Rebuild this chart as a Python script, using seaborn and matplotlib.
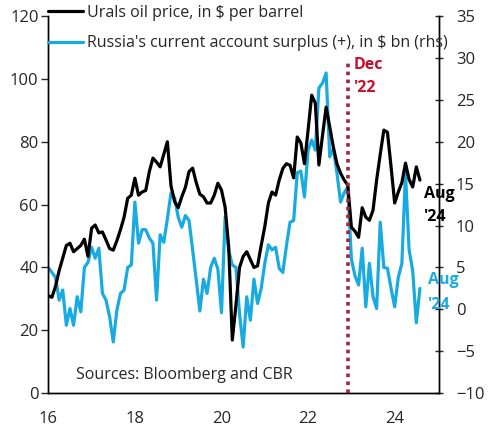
import numpy as np
import pandas as pd
import seaborn as sns
import matplotlib.pyplot as plt
from matplotlib.lines import Line2D

# monthly data, Jan 2016 .. Aug 2024
urals = [31, 30.5, 34, 39, 43, 47, 47.7, 45, 46, 47, 49, 43.5,
         52.5, 53.5, 51, 51.3, 48.7, 46, 45.5, 48.5, 52, 56, 62, 63,
         68.4, 63, 64, 64.5, 70.5, 74.8, 73.5, 72, 76, 80, 66, 61,
         59, 62.5, 65.5, 70.5, 71.6, 67, 63.3, 62.5, 60.5, 60.5, 63, 66.8,
         64.6, 59.2, 46.5, 16.9, 28, 40, 43.5, 45, 42.5, 40, 40.5, 47,
         53, 60.5, 64, 63, 67.8, 71.5, 73, 72.5, 68.5, 81.5, 79.6, 73,
         83.7, 94.8, 92.3, 72.6, 82, 91, 84.7, 78.3, 73, 70, 67.8, 66.2,
         52.8, 51.5, 49.6, 59, 56, 55, 58.2, 67.8, 76, 83.7, 83, 72,
         60.5, 64, 67, 73.2, 68, 65.6, 72, 67.8]

cur_acc = [5.0, 4.4, 3.8, 1.1, 2.3, -1.9, 0.1, -1.9, 1.5, -0.3, 5.0, 5.6,
           7.4, 6.1, 7.3, 1.9, 1.1, -0.9, -3.9, -0.1, 1.9, 2.3, 5.0, 5.3,
           12.8, 7.9, 9.5, 9.5, 8.5, 7.9, 1.1, 8.9, 8.0, 10.8, 13.9, 13.3,
           11.0, 9.8, 11.2, 10.6, 7.1, 3.5, -0.2, 3.6, 1.9, 5.0, 6.1, 4.8,
           -0.4, 11.0, 7.0, 5.3, 5.0, -0.5, -4.5, 1.5, -1.3, 3.6, 0.7, 2.5,
           5.5, 7.7, 7.1, 7.4, 4.9, 4.4, 7.6, 10.4, 10.6, 16.3, 16.5, 13.4,
           19.0, 20.2, 19.0, 26.4, 27.0, 28.2, 18.2, 19.2, 16.3, 12.8, 13.9, 14.6,
           6.0, 4.0, 2.9, 7.3, 0.3, 5.5, 1.5, 0.1, 10.4, 5.0, 4.9, 2.5,
           0.3, 3.8, 5.5, 16.3, 7.1, 4.6, -1.6, 2.5]

years = 2016 + np.arange(len(urals)) / 12
x_ticks = [2016, 2018, 2020, 2022, 2024]
x_labels = ["16", "18", "20", "22", "24"]

df = pd.DataFrame({"year": years, "urals": urals, "ca": cur_acc})

sns.set_style("white")
plt.rcParams["font.family"] = ["Open Sans", "DejaVu Sans"]
fs = 11.5
tfs = 12

black = "#000000"
blue = "#18ABE2"
red = "#C8102E"

fig = plt.figure(figsize=(4.93, 4.33), dpi=100)
ax = fig.add_axes([0.098, 0.092, 0.793, 0.871])
ax2 = ax.twinx()

sns.lineplot(data=df, x="year", y="ca", ax=ax2, color=blue, linewidth=2.3)
sns.lineplot(data=df, x="year", y="urals", ax=ax, color=black, linewidth=2.3)
ax.set_zorder(ax2.get_zorder() + 1)
ax.patch.set_visible(False)

ax.set_xlim(2016, 2025.03)
ax.set_ylim(0, 120)
ax2.set_ylim(-10, 35)
ax.set_yticks(range(0, 121, 20))
ax2.set_yticks(range(-10, 36, 5))
ax.set_xticks(x_ticks)
ax.set_xticklabels(x_labels)
ax.set_xlabel("")
ax.set_ylabel("")
ax2.set_ylabel("")

for a in (ax, ax2):
    a.spines["top"].set_visible(False)
    for s in a.spines.values():
        s.set_color("black")
        s.set_linewidth(1.0)
ax.tick_params(axis="y", direction="out", length=5, width=1, labelsize=tfs, pad=2)
ax.tick_params(axis="x", direction="out", length=5, width=1, labelsize=tfs, pad=8)
ax2.tick_params(axis="y", direction="inout", length=6, width=1, labelsize=tfs, pad=9)

# Dec '22 marker
ax.vlines(2022.92, 0, 106, colors="#A3243B", linestyles=(0, (1, 1.2)), linewidth=2.6)
ax.text(2023.06, 104.5, "Dec", color=red, fontweight="bold", fontsize=fs, va="center")
ax.text(2023.06, 97, "'22", color=red, fontweight="bold", fontsize=fs, va="center")

ax.text(2024.68, 63.5, "Aug", color=black, fontweight="bold", fontsize=fs, va="center", clip_on=False)
ax.text(2024.68, 56, "'24", color=black, fontweight="bold", fontsize=fs, va="center", clip_on=False)
ax.text(2024.77, 36, "Aug", color=blue, fontweight="bold", fontsize=fs, va="center", clip_on=False)
ax.text(2024.77, 28, "'24", color=blue, fontweight="bold", fontsize=fs, va="center", clip_on=False)

ax.text(2016.64, 5.8, "Sources: Bloomberg and CBR", fontsize=fs, va="center")

handles = [Line2D([], [], color=black, linewidth=2.3),
           Line2D([], [], color=blue, linewidth=2.3)]
labels = ["Urals oil price, in $ per barrel",
          "Russia's current account surplus (+), in $ bn (rhs)"]
ax.legend(handles, labels, loc="upper left", bbox_to_anchor=(0.0, 1.03),
          frameon=False, handlelength=2.2, handletextpad=0.2,
          labelspacing=0.92, borderpad=0, borderaxespad=0, fontsize=fs)

fig.savefig("out.png", dpi=100)
